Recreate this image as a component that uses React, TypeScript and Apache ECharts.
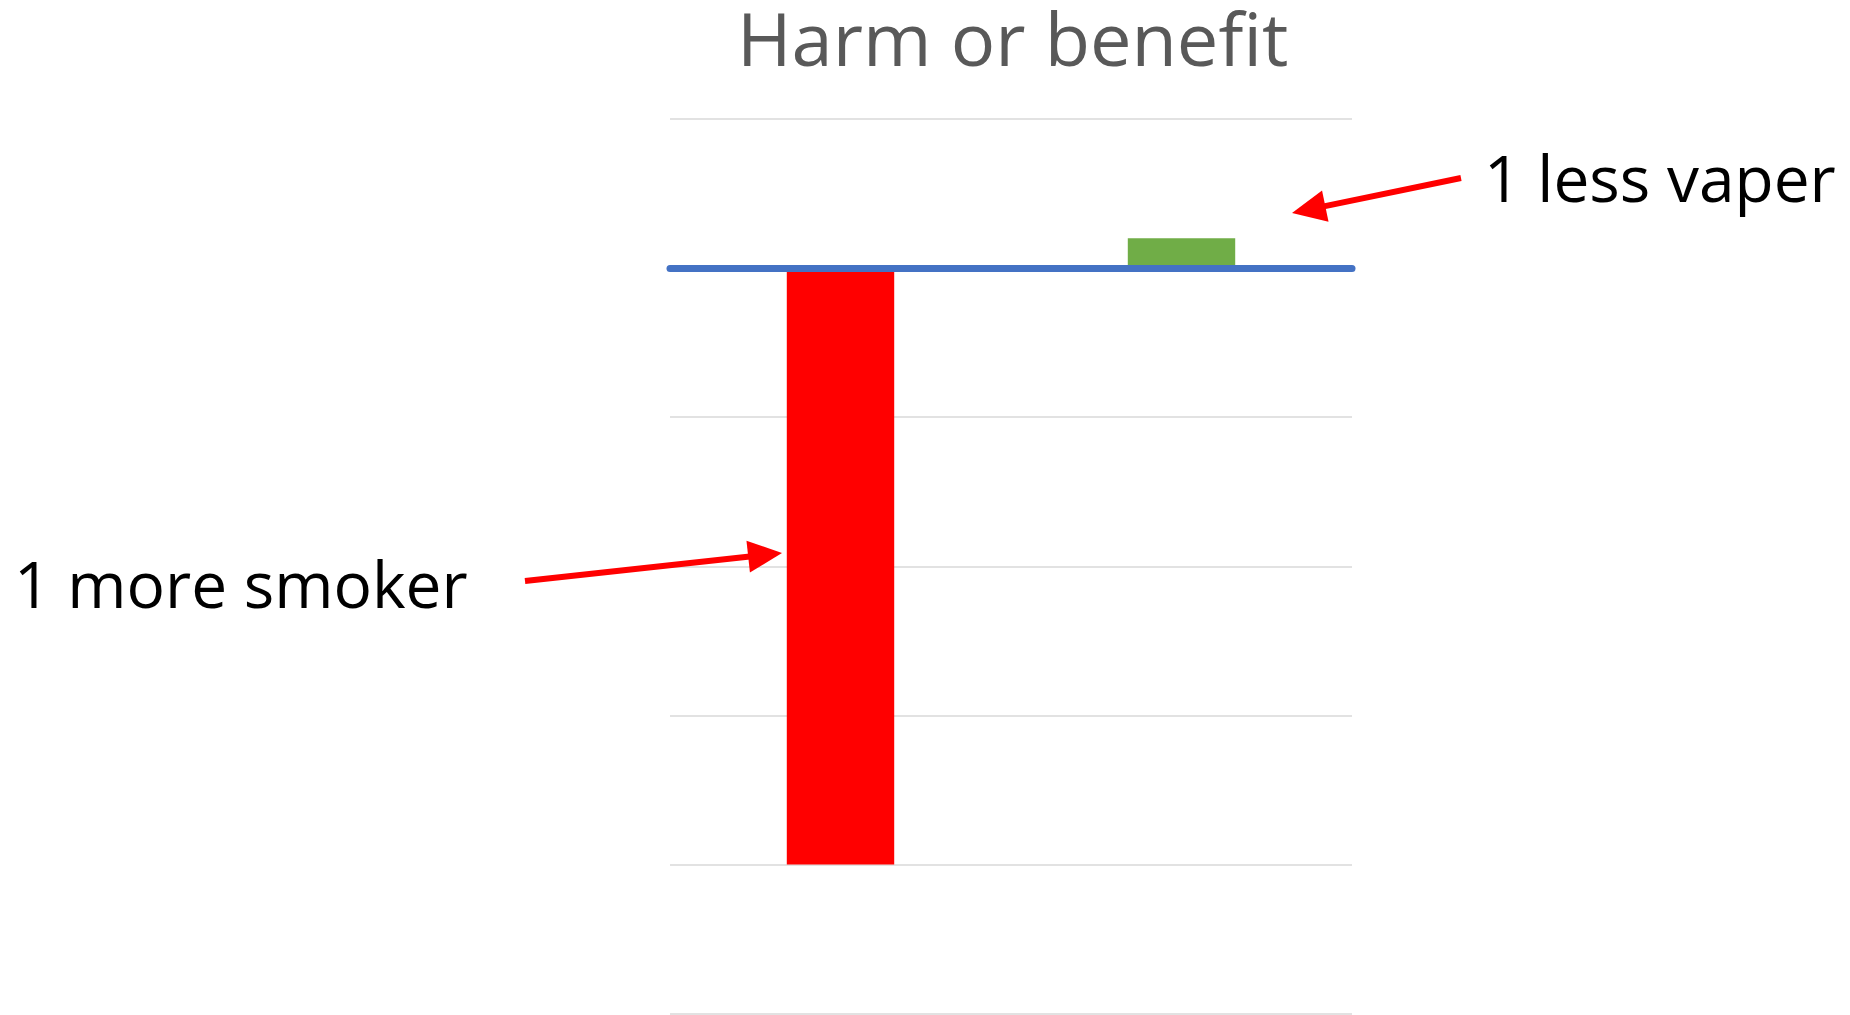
import React, { useEffect, useRef } from "react";
import * as echarts from "echarts";

// Chart data
const categories = ["1 more smoker", "1 less vaper"];
const values = [-4, 0.2];
const barColors = ["#FF0000", "#70AD47"];

// Value axis range
const yMin = -5;
const yMax = 1;
const yInterval = 1;

const titleText = "Harm or benefit";

// Annotation callouts: label text plus arrow (start -> tip), in pixels
const callouts = [
  { text: "1 less vaper", tx: 1484, ty: 177, start: [1461, 178], tip: [1292, 213] },
  { text: "1 more smoker", tx: 14, ty: 583, start: [525, 581], tip: [782, 553] },
];

function arrowGraphics(start: number[], tip: number[]) {
  const dx = tip[0] - start[0];
  const dy = tip[1] - start[1];
  const len = Math.sqrt(dx * dx + dy * dy);
  const ux = dx / len;
  const uy = dy / len;
  const headLen = 34;
  const headHalf = 16;
  const bx = tip[0] - ux * headLen;
  const by = tip[1] - uy * headLen;
  const nx = -uy * headHalf;
  const ny = ux * headHalf;
  return [
    {
      type: "line",
      shape: { x1: start[0], y1: start[1], x2: bx + ux * 4, y2: by + uy * 4 },
      style: { stroke: "#FF0000", lineWidth: 6 },
      z: 10,
    },
    {
      type: "polygon",
      shape: {
        points: [
          [tip[0], tip[1]],
          [bx + nx, by + ny],
          [bx - nx, by - ny],
        ],
      },
      style: { fill: "#FF0000" },
      z: 10,
    },
  ];
}

export default function App() {
  const ref = useRef<HTMLDivElement>(null);

  useEffect(() => {
    if (!ref.current) return;
    const chart = echarts.init(ref.current, undefined, { renderer: "svg" });

    const graphics: any[] = [];
    callouts.forEach((c) => {
      graphics.push({
        type: "text",
        z: 10,
        style: {
          text: c.text,
          x: c.tx,
          y: c.ty,
          fill: "#000000",
          font: '64px "Open Sans"',
          textAlign: "left",
          textVerticalAlign: "middle",
        },
      });
      graphics.push(...arrowGraphics(c.start, c.tip));
    });

    chart.setOption({
      animation: false,
      backgroundColor: "#FFFFFF",
      title: {
        text: titleText,
        left: 737,
        top: 0,
        padding: 0,
        textStyle: {
          fontFamily: "Open Sans",
          fontSize: 74,
          fontWeight: "normal",
          color: "#595959",
          lineHeight: 74,
        },
      },
      grid: { left: 670, right: 498, top: 119, bottom: 1.5 },
      xAxis: {
        type: "category",
        data: categories,
        z: 3,
        axisLine: { show: true, onZero: true, lineStyle: { color: "#4472C4", width: 7 } },
        axisTick: { show: false },
        axisLabel: { show: false },
        splitLine: { show: false },
      },
      yAxis: {
        type: "value",
        min: yMin,
        max: yMax,
        interval: yInterval,
        axisLine: { show: false },
        axisTick: { show: false },
        axisLabel: { show: false },
        splitLine: { show: true, lineStyle: { color: "#D9D9D9", width: 1.5 } },
      },
      series: [
        {
          type: "bar",
          barWidth: "31.5%",
          data: values.map((v, i) => ({ value: v, itemStyle: { color: barColors[i] } })),
        },
      ],
      graphic: graphics,
    });

    return () => {
      chart.dispose();
    };
  }, []);

  return (
    <div
      ref={ref}
      style={{ position: "fixed", left: 0, top: 0, width: 1850, height: 1015, background: "#fff" }}
    />
  );
}
